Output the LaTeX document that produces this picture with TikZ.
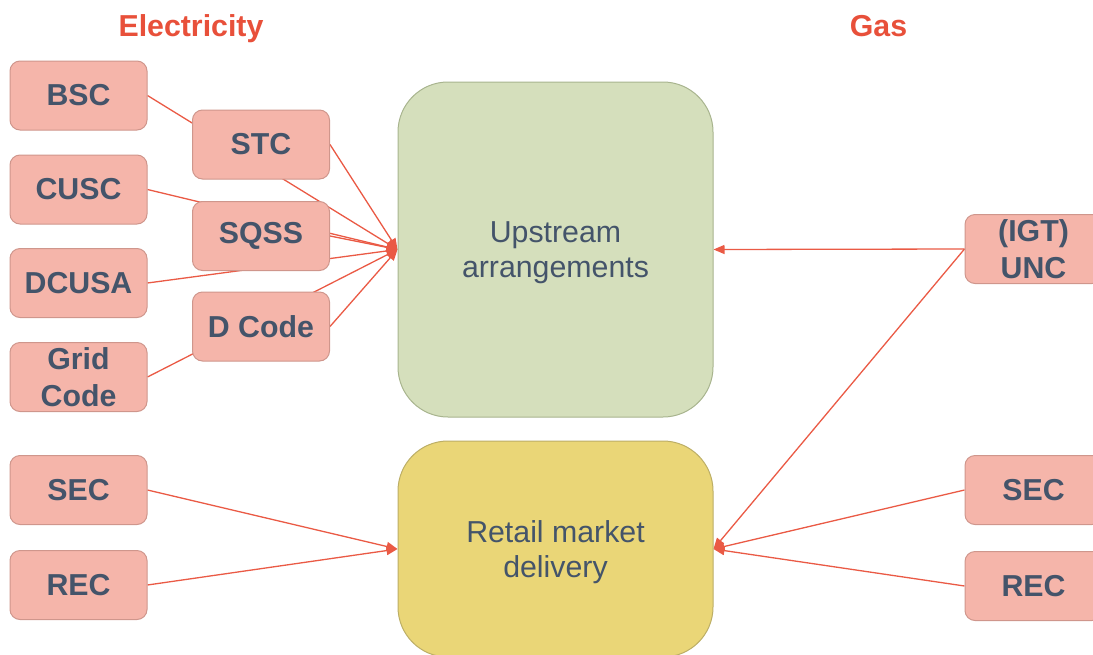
\documentclass[tikz,border=0pt]{standalone}
\usepackage{fontspec}
\setmainfont{Liberation Sans}
\usetikzlibrary{arrows.meta,backgrounds}
\definecolor{codefill}{HTML}{F5B5AA}
\definecolor{codeedge}{HTML}{CF968C}
\definecolor{ink}{HTML}{44546A}
\definecolor{wirecol}{HTML}{EA5A45}
\definecolor{headcol}{HTML}{E8503A}
\definecolor{upfill}{HTML}{D5DFBC}
\definecolor{upedge}{HTML}{A8B48E}
\definecolor{retfill}{HTML}{EAD677}
\definecolor{retedge}{HTML}{BCAE66}
\begin{document}
\begin{tikzpicture}[x=1pt,y=-1pt,
  codebox/.style={draw=codeedge, fill=codefill, line width=1pt, rounded corners=10pt,
    minimum width=137pt, minimum height=69pt, inner sep=0pt, text=ink,
    font=\fontsize{30.3}{37}\selectfont\bfseries, align=center},
  bigbox/.style={line width=1pt, rounded corners=50pt, minimum width=315pt,
    minimum height=335pt, inner sep=0pt, text=ink,
    font=\fontsize{30.3}{35}\selectfont, align=center},
  wire/.style={draw=wirecol, line width=1.3pt},
  feed/.style={wire, -{Triangle[length=11pt,width=9pt]}},
  heading/.style={text=headcol, font=\fontsize{30.3}{34}\selectfont\bfseries, anchor=base}]
\useasboundingbox (0,0) rectangle (1093,654);
\clip (0,0) rectangle (1093,654);

% column headings
\node[heading] (elec) at (191,36.5) {Electricity};
\node[heading] (gas) at (878.5,36) {Gas};

% central blocks
\node[bigbox, draw=upedge, fill=upfill] (up) at (555.5,249.5) {};
\node[text=ink, font=\fontsize{30.3}{35}\selectfont, align=center] (uptext) at (555.5,252.5) {Upstream\\arrangements};
\node[bigbox, draw=retedge, fill=retfill, minimum height=216pt] (ret) at (555.5,549) {};
\node[text=ink, font=\fontsize{30.3}{35}\selectfont, align=center] (rettext) at (555.5,552) {Retail market\\delivery};

% electricity codes
\node[codebox] (bsc) at (78.5,95.5) {BSC};
\node[codebox] (cusc) at (78.5,189.5) {CUSC};
\node[codebox] (dcusa) at (78.5,283) {DCUSA};
\node[codebox] (grid) at (78.5,377) {Grid\\Code};
\node[codebox] (esec) at (78.5,490) {SEC};
\node[codebox] (erec) at (78.5,585) {REC};
\node[codebox] (stc) at (261,144.5) {STC};
\node[codebox] (sqss) at (261,236) {SQSS};
\node[codebox] (dcode) at (261,326.5) {D Code};

% gas codes
\node[codebox] (unc) at (1033.5,249) {(IGT)\\UNC};
\node[codebox] (gsec) at (1033.5,490) {SEC};
\node[codebox] (grec) at (1033.5,586) {REC};

\begin{scope}[on background layer]
  \foreach \src in {bsc,cusc,dcusa,grid,stc,sqss,dcode}
    \draw[feed] (\src.east) -- (up.west);
  \draw[feed] (esec.east) -- (ret.west);
  \draw[feed] (erec.east) -- (ret.west);
  \draw[feed] (unc.west) -- (up.east);
  \draw[feed] (unc.west) -- (ret.east);
  \draw[feed] (gsec.west) -- (ret.east);
  \draw[feed] (grec.west) -- (ret.east);
\end{scope}
\end{tikzpicture}
\end{document}
